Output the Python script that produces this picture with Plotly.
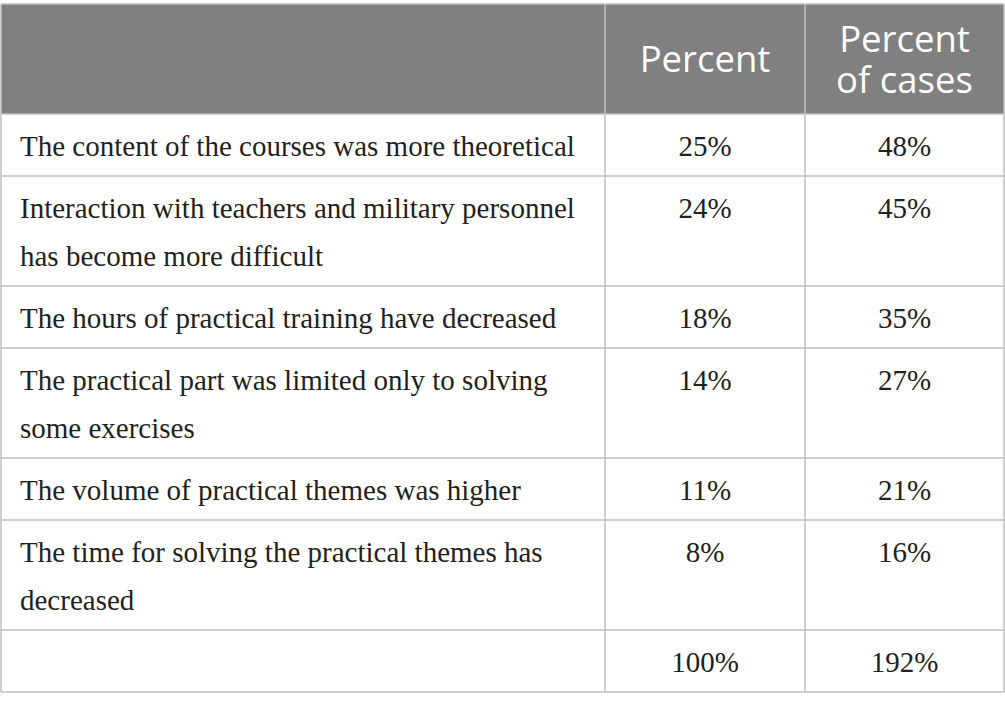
import plotly.graph_objects as go

# table content
items = [
    'The content of the courses was more theoretical',
    'Interaction with teachers and military personnel<br>has become more difficult',
    'The hours of practical training have decreased',
    'The practical part was limited only to solving<br>some exercises',
    'The volume of practical themes was higher',
    'The time for solving the practical themes has<br>decreased',
    '',
]
percent = ['25%', '24%', '18%', '14%', '11%', '8%', '100%']
percent_cases = ['48%', '45%', '35%', '27%', '21%', '16%', '192%']
headers = ['', 'Percent', 'Percent<br>of cases']

# layout in pixel units (axes map 1:1 to the page)
W, H = 1005, 713
col_edges = [1, 605, 805, 1004]
top = 4
header_h = 110
single_h = 62
line_h = 48
first_line = 35
line_col = '#bfbfbf'
header_bg = '#808080'
body_font = dict(family='Liberation Serif', size=29, color='#231f20')
head_font = dict(family='Open Sans', size=36.5, color='white')

n_lines = [max(len(t.split('<br>')), 1) for t in items]
row_tops = []
y = top + header_h
for n in n_lines:
    row_tops.append(y)
    y += single_h + line_h * (n - 1)
bottom = y
row_edges = [top, top + header_h] + row_tops[1:] + [bottom]

fig = go.Figure()

# header background
fig.add_shape(type='rect', x0=col_edges[0], x1=col_edges[-1], y0=top, y1=top + header_h,
              fillcolor=header_bg, line_width=0, layer='below')

# grid lines
for ye in row_edges:
    fig.add_shape(type='line', x0=col_edges[0], x1=col_edges[-1], y0=ye, y1=ye,
                  line=dict(color=line_col, width=1.5))
for xe in col_edges:
    fig.add_shape(type='line', x0=xe, x1=xe, y0=top, y1=bottom,
                  line=dict(color=line_col, width=1.5))

# header text
hx, hy, ht = [], [], []
for i, h in enumerate(headers):
    if not h:
        continue
    lines = h.split('<br>')
    cx = (col_edges[i] + col_edges[i + 1]) / 2
    mid = top + header_h / 2 + 4
    for k, ln in enumerate(lines):
        hx.append(cx)
        hy.append(mid + (k - (len(lines) - 1) / 2) * 41)
        ht.append(ln)
fig.add_trace(go.Scatter(x=hx, y=hy, text=ht, mode='text', textposition='middle center',
                         textfont=head_font, hoverinfo='skip', showlegend=False))

# item labels, one point per text line
lx, ly, lt = [], [], []
for rt, t in zip(row_tops, items):
    if not t:
        continue
    for k, ln in enumerate(t.split('<br>')):
        lx.append(col_edges[0] + 19)
        ly.append(rt + first_line + k * line_h)
        lt.append(ln)
fig.add_trace(go.Scatter(x=lx, y=ly, text=lt, mode='text', textposition='middle right',
                         textfont=body_font, hoverinfo='skip', showlegend=False))

# numeric columns
for ci, vals in [(1, percent), (2, percent_cases)]:
    cx = (col_edges[ci] + col_edges[ci + 1]) / 2
    fig.add_trace(go.Scatter(x=[cx] * len(vals), y=[rt + first_line for rt in row_tops],
                             text=vals, mode='text', textposition='middle center',
                             textfont=body_font, hoverinfo='skip', showlegend=False))

fig.update_xaxes(range=[0, W], visible=False, fixedrange=True)
fig.update_yaxes(range=[H, 0], visible=False, fixedrange=True)
fig.update_layout(width=W, height=H, margin=dict(l=0, r=0, t=0, b=0),
                  plot_bgcolor='white', paper_bgcolor='white')

# drop the browser's default 8px body margin so the page matches the figure
fig.write_html('out.html', config={'displayModeBar': False},
               post_script="document.body.style.margin = '0';")
